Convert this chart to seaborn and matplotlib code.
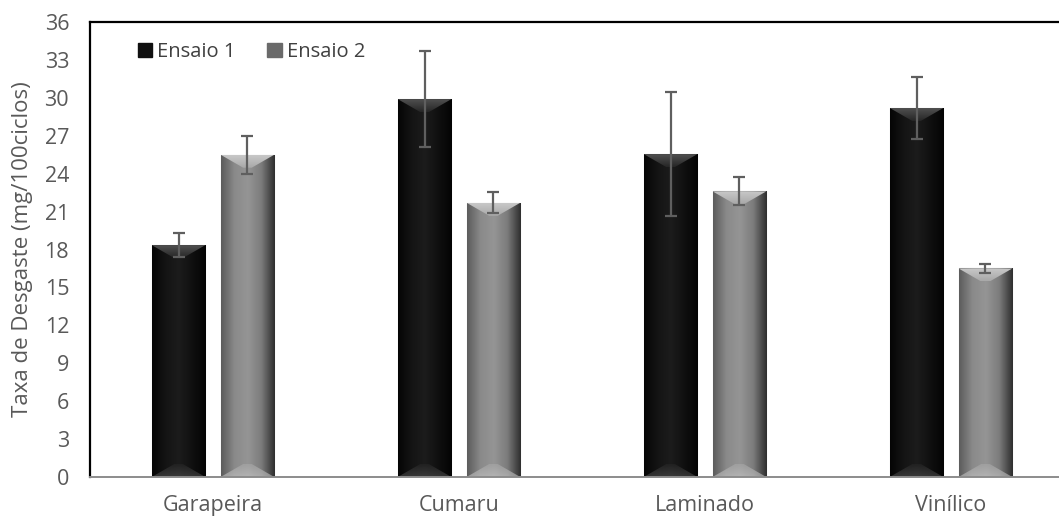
#!/usr/bin/env python3
import numpy as np
import pandas as pd
import matplotlib
matplotlib.use("Agg")
import matplotlib.pyplot as plt
from matplotlib.colors import LinearSegmentedColormap
from matplotlib.patches import Patch, Polygon
import seaborn as sns


categories = ["Garapeira", "Cumaru", "Laminado", "Vinílico"]
series = ["Ensaio 1", "Ensaio 2"]
ensaio1 = [18.35, 29.9, 25.55, 29.2]
ensaio2 = [25.5, 21.7, 22.6, 16.5]
err1 = [0.95, 3.8, 4.9, 2.45]
err2 = [1.5, 0.85, 1.1, 0.35]
yticks = list(range(0, 37, 3))

base_colors = {"Ensaio 1": "#0c0c0c", "Ensaio 2": "#858585"}
side_cmaps = {
    "Ensaio 1": ["#050505", "#141414", "#1c1c1c", "#101010", "#030303"],
    "Ensaio 2": ["#5c5c5c", "#8a8a8a", "#959595", "#7c7c7c", "#2e2e2e"],
}
bevel_cmaps = {
    "Ensaio 1": ["#262626", "#505050"],
    "Ensaio 2": ["#a8a8a8", "#c8c8c8"],
}


def shade_bar(ax, patch, name, bevel_y):
    x0, y0 = patch.get_x(), patch.get_y()
    w, h = patch.get_width(), patch.get_height()
    x1, y1 = x0 + w, y0 + h
    cmap = LinearSegmentedColormap.from_list(name + "_side", side_cmaps[name])
    grad = np.linspace(0, 1, 128).reshape(1, -1)
    im = ax.imshow(grad, cmap=cmap, extent=(x0, x1, y0, y1), aspect="auto",
                   origin="lower", zorder=patch.get_zorder() + 0.1, interpolation="bicubic")
    im.set_clip_path(patch)

    d = 0.42 * w
    bcmap = LinearSegmentedColormap.from_list(name + "_bev", bevel_cmaps[name])
    vgrad = np.linspace(0, 1, 64).reshape(-1, 1)
    # top bevel, lighter towards the top edge
    top = Polygon([(x0, y1), (x1, y1), (x1 - d, y1 - bevel_y), (x0 + d, y1 - bevel_y)],
                  closed=True, facecolor="none", edgecolor="none", transform=ax.transData)
    ax.add_patch(top)
    imt = ax.imshow(vgrad, cmap=bcmap, extent=(x0, x1, y1 - bevel_y, y1), aspect="auto",
                    origin="lower", zorder=patch.get_zorder() + 0.2)
    imt.set_clip_path(top)
    # bottom bevel
    bot = Polygon([(x0, y0), (x1, y0), (x1 - d, y0 + bevel_y), (x0 + d, y0 + bevel_y)],
                  closed=True, facecolor="none", edgecolor="none", transform=ax.transData)
    ax.add_patch(bot)
    imb = ax.imshow(vgrad[::-1], cmap=bcmap, extent=(x0, x1, y0, y0 + bevel_y), aspect="auto",
                    origin="lower", zorder=patch.get_zorder() + 0.2, alpha=0.6)
    imb.set_clip_path(bot)


def main() -> None:
    df = pd.DataFrame({
        "material": categories * 2,
        "ensaio": [series[0]] * 4 + [series[1]] * 4,
        "taxa": ensaio1 + ensaio2,
    })

    sns.set_theme(style="white")
    plt.rcParams["font.family"] = ["Open Sans", "DejaVu Sans"]

    fig = plt.figure(figsize=(10.59, 5.18), dpi=100)
    ax = fig.add_axes([90 / 1059, 41 / 518, 984 / 1059, 455 / 518])

    sns.barplot(data=df, x="material", y="taxa", hue="ensaio", order=categories,
                hue_order=series, palette=base_colors, width=0.56, gap=0.22,
                errorbar=None, edgecolor="#a8a8a8", linewidth=0.8, legend=False, ax=ax)

    ax.set_ylim(0, 36)
    ax.set_xlim(-0.5, 3.5)
    bevel_y = 36 * 13 / 455

    for container, name, errs in zip(ax.containers, series, [err1, err2]):
        xs, ys = [], []
        for patch in container:
            shade_bar(ax, patch, name, bevel_y)
            xs.append(patch.get_x() + patch.get_width() / 2)
            ys.append(patch.get_height())
        ax.errorbar(xs, ys, yerr=errs, fmt="none", ecolor="#5f5f5f",
                    elinewidth=1.6, capsize=4.5, capthick=1.6, zorder=10)

    ax.set_ylim(0, 36)
    ax.set_xlim(-0.5, 3.5)
    ax.set_yticks(yticks)
    ax.set_yticklabels([str(t) for t in yticks])
    ax.tick_params(axis="y", length=0, pad=15, labelsize=15.5, colors="#595959")
    ax.tick_params(axis="x", length=0, pad=13, labelsize=15.5, colors="#595959")
    ax.set_xlabel("")
    ax.set_ylabel("Taxa de Desgaste (mg/100ciclos)", fontsize=16, color="#595959", labelpad=8)

    for side in ["left", "top", "right"]:
        ax.spines[side].set_color("black")
        ax.spines[side].set_linewidth(1.6)
    ax.spines["bottom"].set_color("#8c8c8c")
    ax.spines["bottom"].set_linewidth(1.4)

    handles = [Patch(facecolor="#101010", edgecolor="#101010"),
               Patch(facecolor="#6a6a6a", edgecolor="#6a6a6a")]
    ax.legend(handles, series, loc="upper left", bbox_to_anchor=(0.03, 0.995), ncol=2,
              frameon=False, fontsize=14.5, handlelength=0.7, handleheight=0.7,
              handletextpad=0.25, columnspacing=1.6, labelcolor="#404040")

    fig.savefig("out.png", dpi=100)
    plt.close(fig)


if __name__ == "__main__":
    main()
